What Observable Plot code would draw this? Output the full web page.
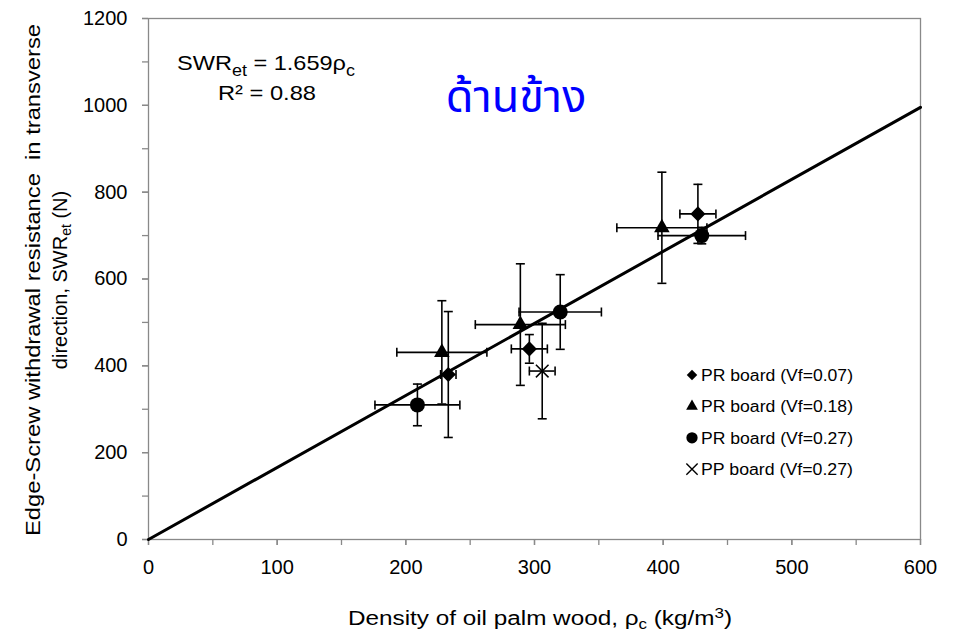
<!DOCTYPE html>
<html>
<head>
<meta charset="utf-8">
<script src="https://cdn.jsdelivr.net/npm/d3@7"></script>
<script src="https://cdn.jsdelivr.net/npm/@observablehq/plot@0.6"></script>
<style>
  body { margin: 0; background: #fff; }
  #chart { width: 958px; height: 636px; }
  #chart svg { font-family: "Liberation Sans", Arial, sans-serif; }
</style>
</head>
<body>
<div id="chart"></div>
<script>
// Board groups and their marker symbols
const groups = ["PR board (Vf=0.07)", "PR board (Vf=0.18)", "PR board (Vf=0.27)", "PP board (Vf=0.27)"];
const groupSymbols = ["diamond2", "triangle", "circle", "times"];

// Measured points: group index, density (kg/m3) ± SD, withdrawal resistance (N) ± SD
const pointGroup = [0, 0, 0, 1, 1, 1, 2, 2, 2, 3];
const density    = [233, 296, 427, 228, 289, 399, 209, 320, 430, 306];
const densitySD  = [6, 14, 14, 35, 35, 35, 33, 32, 34, 10];
const swr        = [380, 439, 750, 431, 495, 718, 310, 524, 700, 388];
const swrSD      = [145, 33, 68, 119, 140, 128, 48, 86, 19, 110];

// Fitted line through the origin: SWR_et = 1.659 * rho_c, R² = 0.88
const slope = 1.659;
const rSquared = 0.88;
const fitRange = [0, 600];

// Axis ticks
const xTicks = [0, 100, 200, 300, 400, 500, 600];
const xMinorTicks = [0, 50, 100, 150, 200, 250, 300, 350, 400, 450, 500, 550, 600];
const yTicks = [0, 200, 400, 600, 800, 1000, 1200];
const yMinorTicks = [0, 100, 200, 300, 400, 500, 600, 700, 800, 900, 1000, 1100, 1200];

const points = pointGroup.map((g, i) => ({
  group: g,
  x: density[i], xsd: densitySD[i],
  y: swr[i], ysd: swrSD[i]
}));
const fit = fitRange.map(x => ({x, y: slope * x}));

// Short bar used for error-bar caps
const capH = {draw(ctx, size) { const r = Math.sqrt(size / Math.PI); ctx.moveTo(-r, 0); ctx.lineTo(r, 0); }};
const capV = {draw(ctx, size) { const r = Math.sqrt(size / Math.PI); ctx.moveTo(0, -r); ctx.lineTo(0, r); }};

const vCaps = points.flatMap(d => [{x: d.x, y: d.y - d.ysd}, {x: d.x, y: d.y + d.ysd}]);
const hCaps = points.flatMap(d => [{x: d.x - d.xsd, y: d.y}, {x: d.x + d.xsd, y: d.y}]);

const grey = "#898989";
const ink = "#000";
const markerR = [6.8, 5.8, 7.5, 5.8];

const W = 958, H = 636;
const mL = 148, mT = 18, mR = 38, mB = 97;

const plot = Plot.plot({
  width: W,
  height: H,
  marginLeft: mL,
  marginTop: mT,
  marginRight: mR,
  marginBottom: mB,
  style: {fontFamily: "'Liberation Sans', Arial, sans-serif", background: "#fff"},
  x: {domain: [0, 600]},
  y: {domain: [0, 1200]},
  marks: [
    Plot.frame({stroke: grey, strokeWidth: 1.3}),
    Plot.axisX(xMinorTicks, {tickSize: 6, stroke: grey, strokeWidth: 1.3, tickFormat: () => "", label: null}),
    Plot.axisX(xTicks, {tickSize: 6, tickPadding: 14, stroke: grey, strokeWidth: 1.3, fill: ink, fontSize: 20, tickFormat: d => String(d), label: null}),
    Plot.axisY(yMinorTicks, {tickSize: 6, stroke: grey, strokeWidth: 1.3, tickFormat: () => "", label: null}),
    Plot.axisY(yTicks, {tickSize: 6, tickPadding: 15, stroke: grey, strokeWidth: 1.3, fill: ink, fontSize: 20, tickFormat: d => String(d), label: null}),
    // fitted line
    Plot.line(fit, {x: "x", y: "y", stroke: ink, strokeWidth: 3}),
    // error bars
    Plot.ruleX(points, {x: "x", y1: d => d.y - d.ysd, y2: d => d.y + d.ysd, stroke: ink, strokeWidth: 1.6}),
    Plot.ruleY(points, {y: "y", x1: d => d.x - d.xsd, x2: d => d.x + d.xsd, stroke: ink, strokeWidth: 1.6}),
    Plot.dot(vCaps, {x: "x", y: "y", symbol: capH, r: 4.5, stroke: ink, strokeWidth: 1.6, fill: "none"}),
    Plot.dot(hCaps, {x: "x", y: "y", symbol: capV, r: 4.5, stroke: ink, strokeWidth: 1.6, fill: "none"}),
    // markers
    ...groupSymbols.map((s, gi) => Plot.dot(points.filter(d => d.group === gi), {
      x: "x", y: "y", symbol: s, r: markerR[gi],
      fill: s === "times" ? "none" : ink,
      stroke: s === "times" ? ink : "none",
      strokeWidth: 1.5
    }))
  ]
});

document.getElementById("chart").appendChild(plot);
const svg = d3.select(plot);
const font = "'Liberation Sans', Arial, sans-serif";

// Axis titles
const xt = svg.append("text")
  .attr("x", 540).attr("y", 625)
  .attr("text-anchor", "middle")
  .attr("font-size", 20).attr("font-family", font).attr("fill", ink)
  .attr("textLength", 384).attr("lengthAdjust", "spacingAndGlyphs");
xt.append("tspan").text("Density of oil palm wood, ρ");
xt.append("tspan").attr("dy", 4).attr("font-size", 14).text("c");
xt.append("tspan").attr("dy", -4).text(" (kg/m");
xt.append("tspan").attr("dy", -7).attr("font-size", 14).text("3");
xt.append("tspan").attr("dy", 7).text(")");

const yt = svg.append("g").attr("transform", "translate(0,280) rotate(-90)")
  .attr("font-size", 21).attr("font-family", font).attr("fill", ink)
  .attr("text-anchor", "middle");
yt.append("text").attr("x", 0).attr("y", 40)
  .attr("xml:space", "preserve")
  .attr("textLength", 512).attr("lengthAdjust", "spacingAndGlyphs")
  .text("Edge-Screw withdrawal resistance  in transverse");
const yt2 = yt.append("text").attr("x", 0).attr("y", 67).attr("font-size", 20);
yt2.append("tspan").text("direction, SWR");
yt2.append("tspan").attr("dy", 4).attr("font-size", 14).text("et");
yt2.append("tspan").attr("dy", -4).text(" (N)");

// Regression equation
const eq = svg.append("g").attr("font-size", 21).attr("font-family", font).attr("fill", ink)
  .attr("text-anchor", "middle");
const eq1 = eq.append("text").attr("x", 266).attr("y", 70)
  .attr("textLength", 178).attr("lengthAdjust", "spacingAndGlyphs");
eq1.append("tspan").text("SWR");
eq1.append("tspan").attr("dy", 6).attr("font-size", 16).text("et");
eq1.append("tspan").attr("dy", -6).text(" = " + slope + "ρ");
eq1.append("tspan").attr("dy", 6).attr("font-size", 16).text("c");
eq.append("text").attr("x", 267).attr("y", 100)
  .attr("textLength", 98).attr("lengthAdjust", "spacingAndGlyphs")
  .text("R² = " + rSquared.toFixed(2));

// Thai heading ("side")
svg.append("text")
  .attr("x", 516).attr("y", 112)
  .attr("text-anchor", "middle")
  .attr("font-size", 45)
  .attr("font-family", "'Noto Sans Thai', 'Noto Serif Thai', Tahoma, 'DejaVu Sans', sans-serif")
  .attr("fill", "#0000ff")
  .text("ด้านข้าง");

// Legend
const lg = svg.append("g").attr("font-size", 16).attr("font-family", font).attr("fill", ink)
  .attr("text-anchor", "start");
groups.forEach((name, i) => {
  const cy = 375 + i * 31.4;
  const sym = {diamond2: d3.symbolDiamond2, triangle: d3.symbolTriangle, circle: d3.symbolCircle, times: d3.symbolTimes}[groupSymbols[i]];
  const size = [70, 60, 100, 85][i];
  lg.append("path")
    .attr("transform", `translate(692,${cy})`)
    .attr("d", d3.symbol(sym, size)())
    .attr("fill", groupSymbols[i] === "times" ? "none" : ink)
    .attr("stroke", groupSymbols[i] === "times" ? ink : "none")
    .attr("stroke-width", 1.4);
  lg.append("text").attr("x", 701).attr("y", cy).attr("dy", "0.36em")
    .attr("textLength", 152).attr("lengthAdjust", "spacingAndGlyphs")
    .text(name);
});
</script>
</body>
</html>
